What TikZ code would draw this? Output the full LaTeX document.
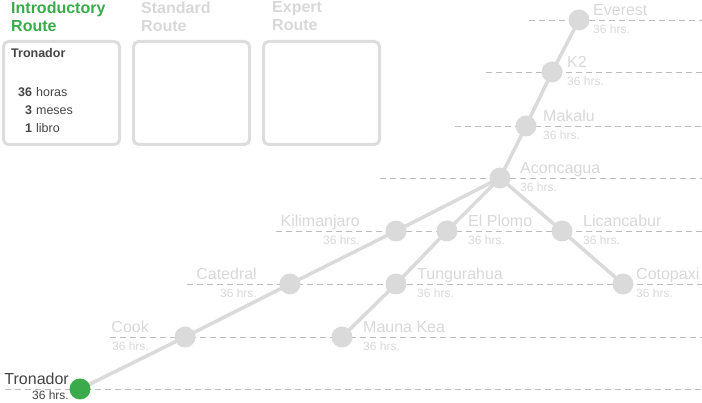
\documentclass[tikz,border=0pt]{standalone}
\usepackage{fontspec}
\setmainfont{Liberation Sans}
\usetikzlibrary{positioning,backgrounds}
\definecolor{routegreen}{RGB}{58,170,74}
\definecolor{stationgray}{RGB}{218,218,218}
\definecolor{labelgray}{RGB}{216,216,216}
\definecolor{rulegray}{RGB}{188,188,188}
\definecolor{boxgray}{RGB}{221,221,221}
\definecolor{textdark}{RGB}{68,68,68}

\begin{document}
\begin{tikzpicture}[x=1pt,y=-1pt,
  station/.style={circle,fill=stationgray,minimum size=21pt,inner sep=0pt},
  here/.style={station,fill=routegreen},
  track/.style={draw=stationgray,line width=3.5pt},
  rule/.style={draw=rulegray,line width=0.9pt,dash pattern=on 6pt off 4pt},
  peak/.style={inner sep=0pt,font=\fontsize{16}{18}\selectfont,text=labelgray},
  hrs/.style={inner sep=0pt,font=\fontsize{12}{14}\selectfont,text=labelgray},
  card/.style={draw=boxgray,line width=3pt,rounded corners=5pt,minimum width=116pt,minimum height=103pt,inner sep=0pt},
  head/.style={inner sep=0pt,align=left,font=\fontsize{16}{18}\selectfont\bfseries,text=labelgray}]
  \useasboundingbox (0,0) rectangle (702,403);

  % route cards
  \node[card] (intro) at (61.5,93) {};
  \node[card,right=11pt of intro] (standard) {};
  \node[card,right=11pt of standard] (expert) {};
  \node[head,text=routegreen,anchor=north west] (intro-head) at (11,1.6) {Introductory\\Route};
  \node[head,anchor=north west] (standard-head) at (141,1.6) {Standard\\Route};
  \node[head,anchor=north west] (expert-head) at (272,1.6) {Expert\\Route};
  \node[inner sep=0pt,anchor=base west,text=textdark,font=\fontsize{12.5}{15}\selectfont\bfseries] (intro-title) at (11,58) {Tronador};
  \node[inner sep=0pt,anchor=base west,text=textdark,font=\fontsize{12.5}{18}\selectfont] (intro-stats) at (18,97)
    {\begin{tabular}[t]{@{}r@{\hspace{4pt}}l@{}}\textbf{36} & horas\\ \textbf{3} & meses\\ \textbf{1} & libro\end{tabular}};

  % stations
  \node[station] (everest) at (579,20) {};
  \node[station] (k2) at (552,72) {};
  \node[station] (makalu) at (526,126) {};
  \node[station] (aconcagua) at (500,178) {};
  \node[station] (kilimanjaro) at (396,231) {};
  \node[station] (plomo) at (447,231) {};
  \node[station] (licancabur) at (562,231) {};
  \node[station] (catedral) at (290,284) {};
  \node[station] (tungurahua) at (396,284) {};
  \node[station] (cotopaxi) at (623,284) {};
  \node[station] (cook) at (185,337) {};
  \node[station] (maunakea) at (342,337) {};
  \node[here] (tronador) at (80,389) {};

  % names and times
  \node[peak,anchor=base west] (everest-name) at (593,16) {Everest};
  \node[hrs,anchor=base west] (everest-hrs) at (593,34) {36 hrs.};
  \node[peak,anchor=base west] (k2-name) at (567,68) {K2};
  \node[hrs,anchor=base west] (k2-hrs) at (567,86) {36 hrs.};
  \node[peak,anchor=base west] (makalu-name) at (543,122) {Makalu};
  \node[hrs,anchor=base west] (makalu-hrs) at (543,140) {36 hrs.};
  \node[peak,anchor=base west] (aconcagua-name) at (520,174) {Aconcagua};
  \node[hrs,anchor=base west] (aconcagua-hrs) at (520,192) {36 hrs.};
  \node[peak,anchor=base east] (kilimanjaro-name) at (360,227) {Kilimanjaro};
  \node[hrs,anchor=base east] (kilimanjaro-hrs) at (360,245) {36 hrs.};
  \node[peak,anchor=base west] (plomo-name) at (468,227) {El Plomo};
  \node[hrs,anchor=base west] (plomo-hrs) at (468,245) {36 hrs.};
  \node[peak,anchor=base west] (licancabur-name) at (583,227) {Licancabur};
  \node[hrs,anchor=base west] (licancabur-hrs) at (583,245) {36 hrs.};
  \node[peak,anchor=base east] (catedral-name) at (257,280) {Catedral};
  \node[hrs,anchor=base east] (catedral-hrs) at (257,298) {36 hrs.};
  \node[peak,anchor=base west] (tungurahua-name) at (417,280) {Tungurahua};
  \node[hrs,anchor=base west] (tungurahua-hrs) at (417,298) {36 hrs.};
  \node[peak,anchor=base west] (cotopaxi-name) at (636,280) {Cotopaxi};
  \node[hrs,anchor=base west] (cotopaxi-hrs) at (636,298) {36 hrs.};
  \node[peak,anchor=base east] (cook-name) at (149,333) {Cook};
  \node[hrs,anchor=base east] (cook-hrs) at (149,351) {36 hrs.};
  \node[peak,anchor=base west] (maunakea-name) at (363,333) {Mauna Kea};
  \node[hrs,anchor=base west] (maunakea-hrs) at (363,351) {36 hrs.};
  \node[peak,text=textdark,anchor=base east] (tronador-name) at (69,385) {Tronador};
  \node[hrs,text=textdark,anchor=base east] (tronador-hrs) at (69,400) {36 hrs.};

  % level rules and tracks
  \coordinate (edge) at (702,0);
  \coordinate (row1) at (529,20);
  \coordinate (row2) at (486,72);
  \coordinate (row3) at (455,126);
  \coordinate (row4) at (380,178);
  \coordinate (row5) at (276,231);
  \coordinate (row6) at (187,284);
  \coordinate (row7) at (110,337);
  \coordinate (row8) at (5,389);
  \begin{scope}[on background layer]
    \draw[rule] (row1) -- (row1 -| edge);
    \draw[rule] (row2) -- (row2 -| edge);
    \draw[rule] (row3) -- (row3 -| edge);
    \draw[rule] (row4) -- (row4 -| edge);
    \draw[rule] (row5) -- (row5 -| edge);
    \draw[rule] (row6) -- (row6 -| edge);
    \draw[rule] (row7) -- (row7 -| edge);
    \draw[rule] (row8) -- (row8 -| edge);
    \draw[track] (tronador.center) -- (cook.center) -- (catedral.center) -- (kilimanjaro.center) -- (aconcagua.center);
    \draw[track] (maunakea.center) -- (tungurahua.center) -- (plomo.center) -- (aconcagua.center);
    \draw[track] (aconcagua.center) -- (licancabur.center) -- (cotopaxi.center);
    \draw[track] (aconcagua.center) -- (makalu.center) -- (k2.center) -- (everest.center);
  \end{scope}
\end{tikzpicture}
\end{document}
